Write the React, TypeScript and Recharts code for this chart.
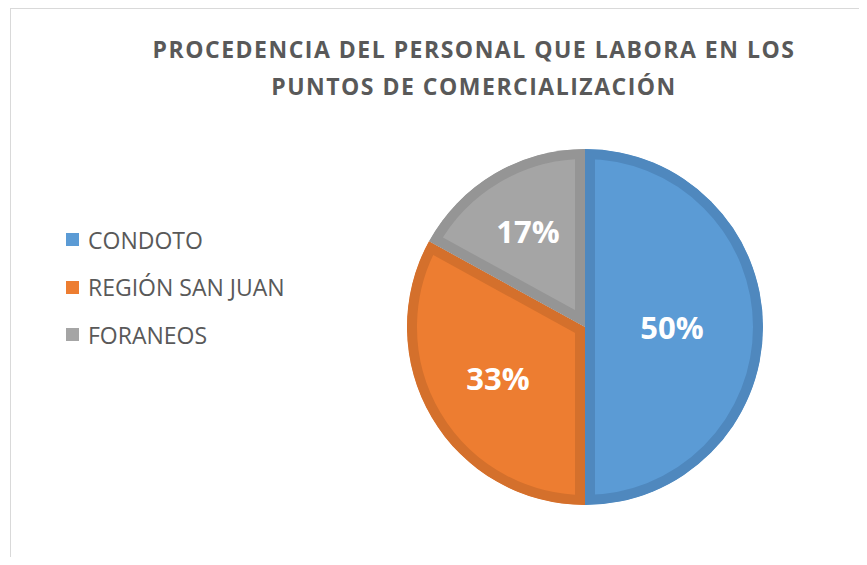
import { Cell, Legend, Pie, PieChart, Sector } from 'recharts'

const categories = ['CONDOTO', 'REGIÓN SAN JUAN', 'FORANEOS']
const shares = [50, 33, 17]
const titleLines = ['PROCEDENCIA DEL PERSONAL QUE LABORA EN LOS', 'PUNTOS DE COMERCIALIZACIÓN']

const fills = ['#5B9BD5', '#ED7D31', '#A5A5A5']
const borders = ['#4F88BE', '#D4702C', '#959595']
const labelRadius = [87, 101, 112]

const data = categories.map((name, i) => ({ name, value: shares[i] }))

const RADIAN = Math.PI / 180

const SliceShape = (props: any) => {
	const i = categories.indexOf(props.payload?.name ?? props.name)
	const id = `clip-slice-${i}`
	return (
		<g>
			<defs>
				<clipPath id={id}>
					<Sector {...props} stroke="none" />
				</clipPath>
			</defs>
			<Sector
				{...props}
				fill={fills[i]}
				stroke={borders[i]}
				strokeWidth={20}
				clipPath={`url(#${id})`}
			/>
		</g>
	)
}

const renderLabel = (props: any) => {
	const { cx, cy, midAngle, index, value } = props
	const r = labelRadius[index]
	const x = cx + r * Math.cos(-midAngle * RADIAN)
	const y = cy + r * Math.sin(-midAngle * RADIAN)
	return (
		<text
			x={x}
			y={y}
			fill="#fff"
			textAnchor="middle"
			dominantBaseline="central"
			fontFamily="'Open Sans', sans-serif"
			fontWeight={700}
			fontSize={31}
		>
			{value}%
		</text>
	)
}

const renderLegend = () => (
	<div style={{ fontFamily: "'Open Sans', sans-serif", fontSize: 23, color: '#595959' }}>
		{categories.map((c, i) => (
			<div key={c} style={{ display: 'flex', alignItems: 'center', height: 47.5 }}>
				<span
					style={{ width: 13, height: 13, background: fills[i], marginRight: 9, display: 'inline-block' }}
				/>
				<span>{c}</span>
			</div>
		))}
	</div>
)

export default function App() {
	return (
		<div style={{ position: 'relative', width: 867, height: 565, margin: -8, background: '#fff', overflow: 'hidden' }}>
			<div
				style={{
					position: 'absolute',
					left: 10,
					top: 8,
					width: 880,
					height: 580,
					border: '1px solid #d9d9d9',
				}}
			/>
			<div
				style={{
					position: 'absolute',
					left: 60,
					top: 31,
					width: 828,
					textAlign: 'center',
					fontFamily: "'Open Sans', sans-serif",
					fontWeight: 700,
					fontSize: 23,
					letterSpacing: 1.5,
					lineHeight: '37px',
					color: '#595959',
				}}
			>
				{titleLines.map((t) => (
					<div key={t}>{t}</div>
				))}
			</div>
			<div style={{ position: 'absolute', left: 0, top: 0 }}>
				<PieChart width={867} height={565}>
					<Legend
						content={renderLegend}
						layout="vertical"
						wrapperStyle={{ left: 66, top: 216, width: 280 }}
					/>
					<Pie
						data={data}
						dataKey="value"
						nameKey="name"
						cx={580}
						cy={322}
						outerRadius={178}
						startAngle={90}
						endAngle={-270}
						stroke="none"
						label={renderLabel}
						labelLine={false}
						shape={SliceShape}
						inactiveShape={SliceShape}
						isAnimationActive={false}
					>
						{data.map((d, i) => (
							<Cell key={d.name} fill={fills[i]} />
						))}
					</Pie>
				</PieChart>
			</div>
		</div>
	)
}
